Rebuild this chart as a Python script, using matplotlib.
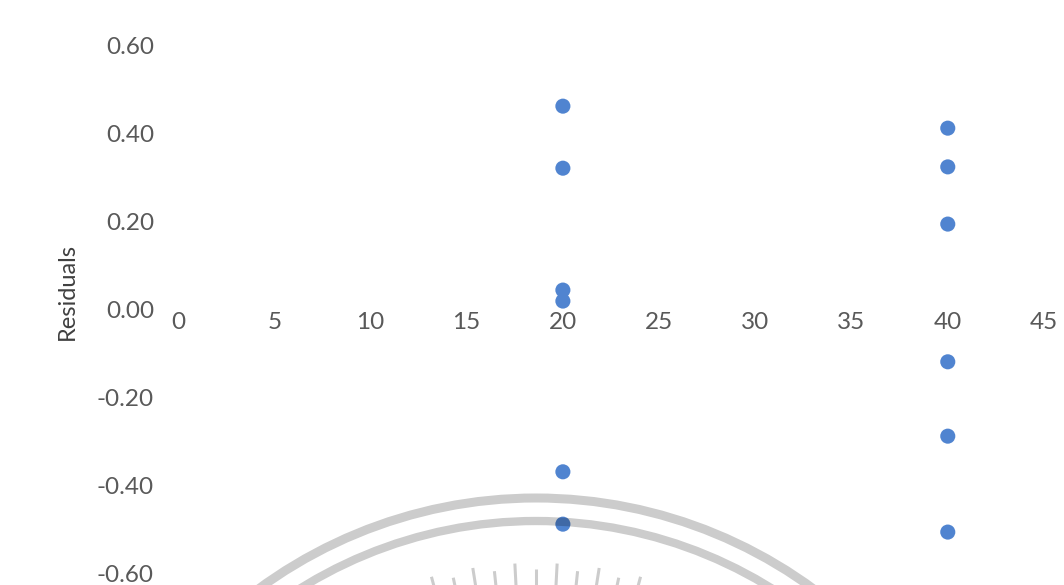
import numpy as np
import matplotlib
matplotlib.use("Agg")
import matplotlib.pyplot as plt
from matplotlib.patches import Arc
from matplotlib.ticker import FixedLocator, FixedFormatter

# Residuals by group
x_vals = [20, 20, 20, 20, 20, 20, 40, 40, 40, 40, 40, 40]
residuals = [0.461, 0.320, 0.043, 0.018, -0.370, -0.489,
             0.411, 0.323, 0.193, -0.120, -0.289, -0.507]

x_ticks = [0, 5, 10, 15, 20, 25, 30, 35, 40, 45]
y_ticks = [0.60, 0.40, 0.20, 0.00, -0.20, -0.40, -0.60]
y_tick_labels = ["0.60", "0.40", "0.20", "0.00", "-0.20", "-0.40", "-0.60"]

plt.rcParams["font.family"] = ["Lato", "DejaVu Sans"]

W, H = 1064, 585
fig = plt.figure(figsize=(W / 100, H / 100), dpi=100)
fig.patch.set_facecolor("white")

ax = fig.add_axes([178 / W, 0, (1044 - 178) / W, 1])
ax.set_xlim(0, 45)
ax.set_ylim(-(585 - 309) / 440, 309 / 440)

ax.scatter(x_vals, residuals, s=118, color="#5084D0", edgecolors="none", zorder=3)

for side in ("top", "right", "left"):
    ax.spines[side].set_visible(False)
ax.spines["bottom"].set_position(("data", 0))
ax.spines["bottom"].set_color("none")

ax.xaxis.set_major_locator(FixedLocator(x_ticks))
ax.xaxis.set_major_formatter(FixedFormatter([str(t) for t in x_ticks]))
ax.yaxis.set_major_locator(FixedLocator(y_ticks))
ax.yaxis.set_major_formatter(FixedFormatter(y_tick_labels))
ax.tick_params(axis="x", length=0, pad=2.5, labelsize=17.5, labelcolor="#595959")
ax.tick_params(axis="y", length=0, pad=17.3, labelsize=17.5, labelcolor="#595959")
ax.patch.set_alpha(0)

fig.text(67 / W, 1 - 292 / H, "Residuals", rotation=90, ha="center", va="center",
         fontsize=17, color="#404040")

# Seal watermark laid over the plot, in pixel coordinates
wm = fig.add_axes([0, 0, 1, 1])
wm.set_xlim(0, W)
wm.set_ylim(H, 0)
wm.axis("off")
cx, cy = 536, 967
shade = (0, 0, 0, 0.2)
wm.add_patch(Arc((cx, cy), 2 * 469, 2 * 469, theta1=180, theta2=360,
                 lw=6.5, color=shade, zorder=5))
wm.add_patch(Arc((cx, cy), 2 * 446, 2 * 446, theta1=180, theta2=360,
                 lw=6.0, color=shade, zorder=5))
for i, ang in enumerate(np.arange(-15, 15.1, 3.0)):
    a = np.deg2rad(ang - 90)
    r_out = 404 if i % 2 == 0 else 398
    r_in = 330
    wm.plot([cx + r_in * np.cos(a), cx + r_out * np.cos(a)],
            [cy + r_in * np.sin(a), cy + r_out * np.sin(a)],
            color=shade, lw=2.2, solid_capstyle="butt", zorder=5)

fig.savefig("out.png", dpi=100, facecolor="white")
